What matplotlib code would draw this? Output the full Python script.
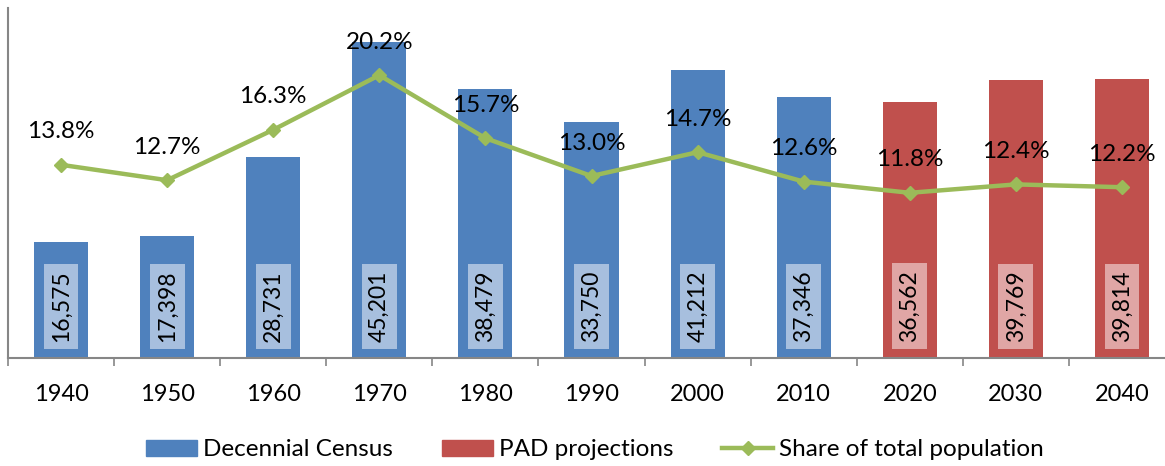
import numpy as np
import matplotlib.pyplot as plt
from matplotlib.lines import Line2D
from matplotlib.patches import Patch

plt.rcParams['font.family'] = ['Lato', 'DejaVu Sans']

years = ['1940', '1950', '1960', '1970', '1980', '1990', '2000', '2010', '2020', '2030', '2040']
population = [16575, 17398, 28731, 45201, 38479, 33750, 41212, 37346, 36562, 39769, 39814]
share = [13.8, 12.7, 16.3, 20.2, 15.7, 13.0, 14.7, 12.6, 11.8, 12.4, 12.2]
n_census = 8  # first 8 are census, rest projections

blue, blue_lt = '#4F81BD', '#A7BFDE'
red, red_lt = '#C0504D', '#E0A6A5'
green = '#9BBB59'
gray = '#868686'

W, H = 1165, 466
fig = plt.figure(figsize=(W / 100, H / 100), dpi=100)
ax = fig.add_axes([8 / W, (H - 358) / H, (1175 - 8) / W, 350 / H])

x = np.arange(len(years))
colors = [blue if i < n_census else red for i in x]
ax.bar(x, population, width=0.51, color=colors, zorder=2)
ax.set_xlim(-0.5, len(years) - 0.5)
ax.set_ylim(0, 50000)

for i, v in enumerate(population):
    lt = blue_lt if i < n_census else red_lt
    ax.annotate(f"{v:,}", xy=(i, 0), xytext=(0, 16), textcoords='offset pixels',
                rotation=90, ha='center', va='bottom', fontsize=16.5,
                bbox=dict(boxstyle='square,pad=0.3', fc=lt, ec='none'), zorder=3)

ax.set_xticks(x)
ax.set_xticklabels(years, fontsize=17)
ax.set_xticks(np.arange(-0.5, len(years), 1), minor=True)
ax.tick_params(axis='x', which='major', length=0, pad=19)
ax.tick_params(axis='x', which='minor', length=6, color=gray, width=1.2)
ax.set_yticks([])
for s in ['top', 'right']:
    ax.spines[s].set_visible(False)
for s in ['left', 'bottom']:
    ax.spines[s].set_color(gray)
    ax.spines[s].set_linewidth(1.5)

ax2 = ax.twinx()
ax2.set_ylim(0, 0.25)
ax2.plot(x, np.array(share) / 100, color=green, lw=3.2, marker='D', ms=7, zorder=4)
for i, s in enumerate(share):
    ax2.annotate(f"{s:.1f}%", xy=(i, s / 100), xytext=(0, 33), textcoords='offset pixels',
                 ha='center', va='center', fontsize=17.5)
ax2.set_yticks([])
for s in ax2.spines.values():
    s.set_visible(False)

handles = [Patch(color=blue), Patch(color=red),
           Line2D([], [], color=green, lw=3.2, marker='D', ms=7)]
fig.legend(handles, ['Decennial Census', 'PAD projections', 'Share of total population'],
           loc='center', bbox_to_anchor=(595 / W, 1 - 450 / H), ncol=3, frameon=False,
           fontsize=17.5, handlelength=2.1, handleheight=0.66, columnspacing=2.0,
           handletextpad=0.25, borderaxespad=0, borderpad=0)

fig.savefig('out.png', dpi=100)
